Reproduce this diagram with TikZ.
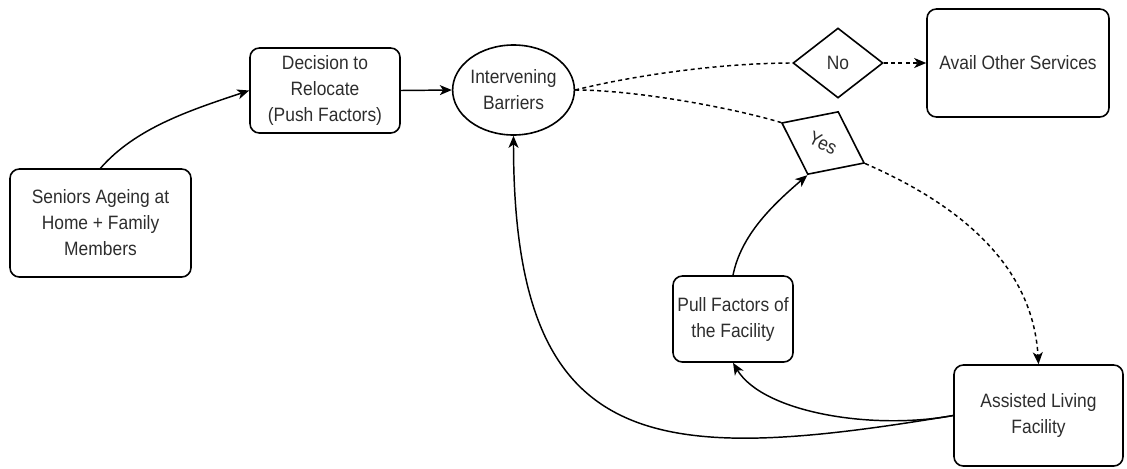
\documentclass[tikz,border=0pt]{standalone}
\usepackage{fontspec}
\setmainfont[FakeStretch=0.9]{Liberation Sans}
\usetikzlibrary{shapes.geometric,arrows.meta,calc}
\definecolor{txt}{RGB}{45,45,45}
\begin{document}
\begin{tikzpicture}[x=0.75pt,y=-0.75pt,
  base/.style={draw,line width=1.2pt,align=center,inner sep=2pt,text=txt,font=\fontsize{14.5}{19.5}\selectfont},
  box/.style={base,rounded corners=7pt},
  oval/.style={base,ellipse,inner sep=0pt},
  decide/.style={base,diamond,inner sep=0pt,minimum width=67.5pt,minimum height=52.5pt},
  conn/.style={line width=1.1pt,-{Stealth[length=9pt,width=7.5pt,inset=2.5pt]}},
  dconn/.style={line width=1.1pt,dash pattern=on 3pt off 2.5pt},
  dconna/.style={dconn,-{Stealth[length=9pt,width=7.5pt,inset=2.5pt]}}]
\useasboundingbox (0,0) rectangle (1127,468);
\node[box,minimum width=135.75pt,minimum height=81pt] (sen) at (100.5,223) {Seniors Ageing at\\Home + Family\\Members};
\node[box,minimum width=112.5pt,minimum height=63.75pt] (dec) at (325,90.5) {Decision to\\Relocate\\(Push Factors)};
\node[oval,minimum width=90.75pt,minimum height=67.5pt] (bar) at (513.5,90) {Intervening\\Barriers};
\node[decide] (no) at (838,63) {No};
\node[box,minimum width=136.5pt,minimum height=81pt] (oth) at (1018,63) {Avail Other Services};
\node[decide,minimum width=69pt,rotate=-26] (yes) at (823,143) {Yes};
\node[box,minimum width=90pt,minimum height=64.5pt] (pull) at (733,319) {Pull Factors of\\the Facility};
\node[box,minimum width=126.75pt,minimum height=75.75pt] (alf) at (1038.5,415.5) {Assisted Living\\Facility};

\draw[conn] (sen.north) .. controls ($(sen.north)+(35,-40)$) and ($(dec.west)+(-60,20)$) .. (dec.west);
\draw[conn] (dec.east) -- (bar.west);
\draw[dconn] (bar.east) .. controls ($(bar.east)+(60,-15)$) and ($(no.west)+(-70,0)$) .. (no.west);
\draw[dconna] (no.east) -- (oth.west);
\draw[dconn] (bar.east) .. controls ($(bar.east)+(60,0)$) and ($(yes.west)+(-50,-15)$) .. (yes.west);
\draw[dconna] (yes.east) .. controls ($(yes.east)+(115,50)$) and ($(alf.north)+(-5,-85)$) .. (alf.north);
\draw[conn] (pull.north) .. controls ($(pull.north)+(8,-40)$) and ($(yes.south)+(-35,30)$) .. (yes.south);
\draw[conn] (alf.west) .. controls ($(alf.west)+(-80,15)$) and ($(pull.south)+(30,50)$) .. (pull.south);
\draw[conn] (alf.west) .. controls ($(alf.west)+(-300,50)$) and ($(bar.south)+(0,320)$) .. (bar.south);
\end{tikzpicture}
\end{document}
